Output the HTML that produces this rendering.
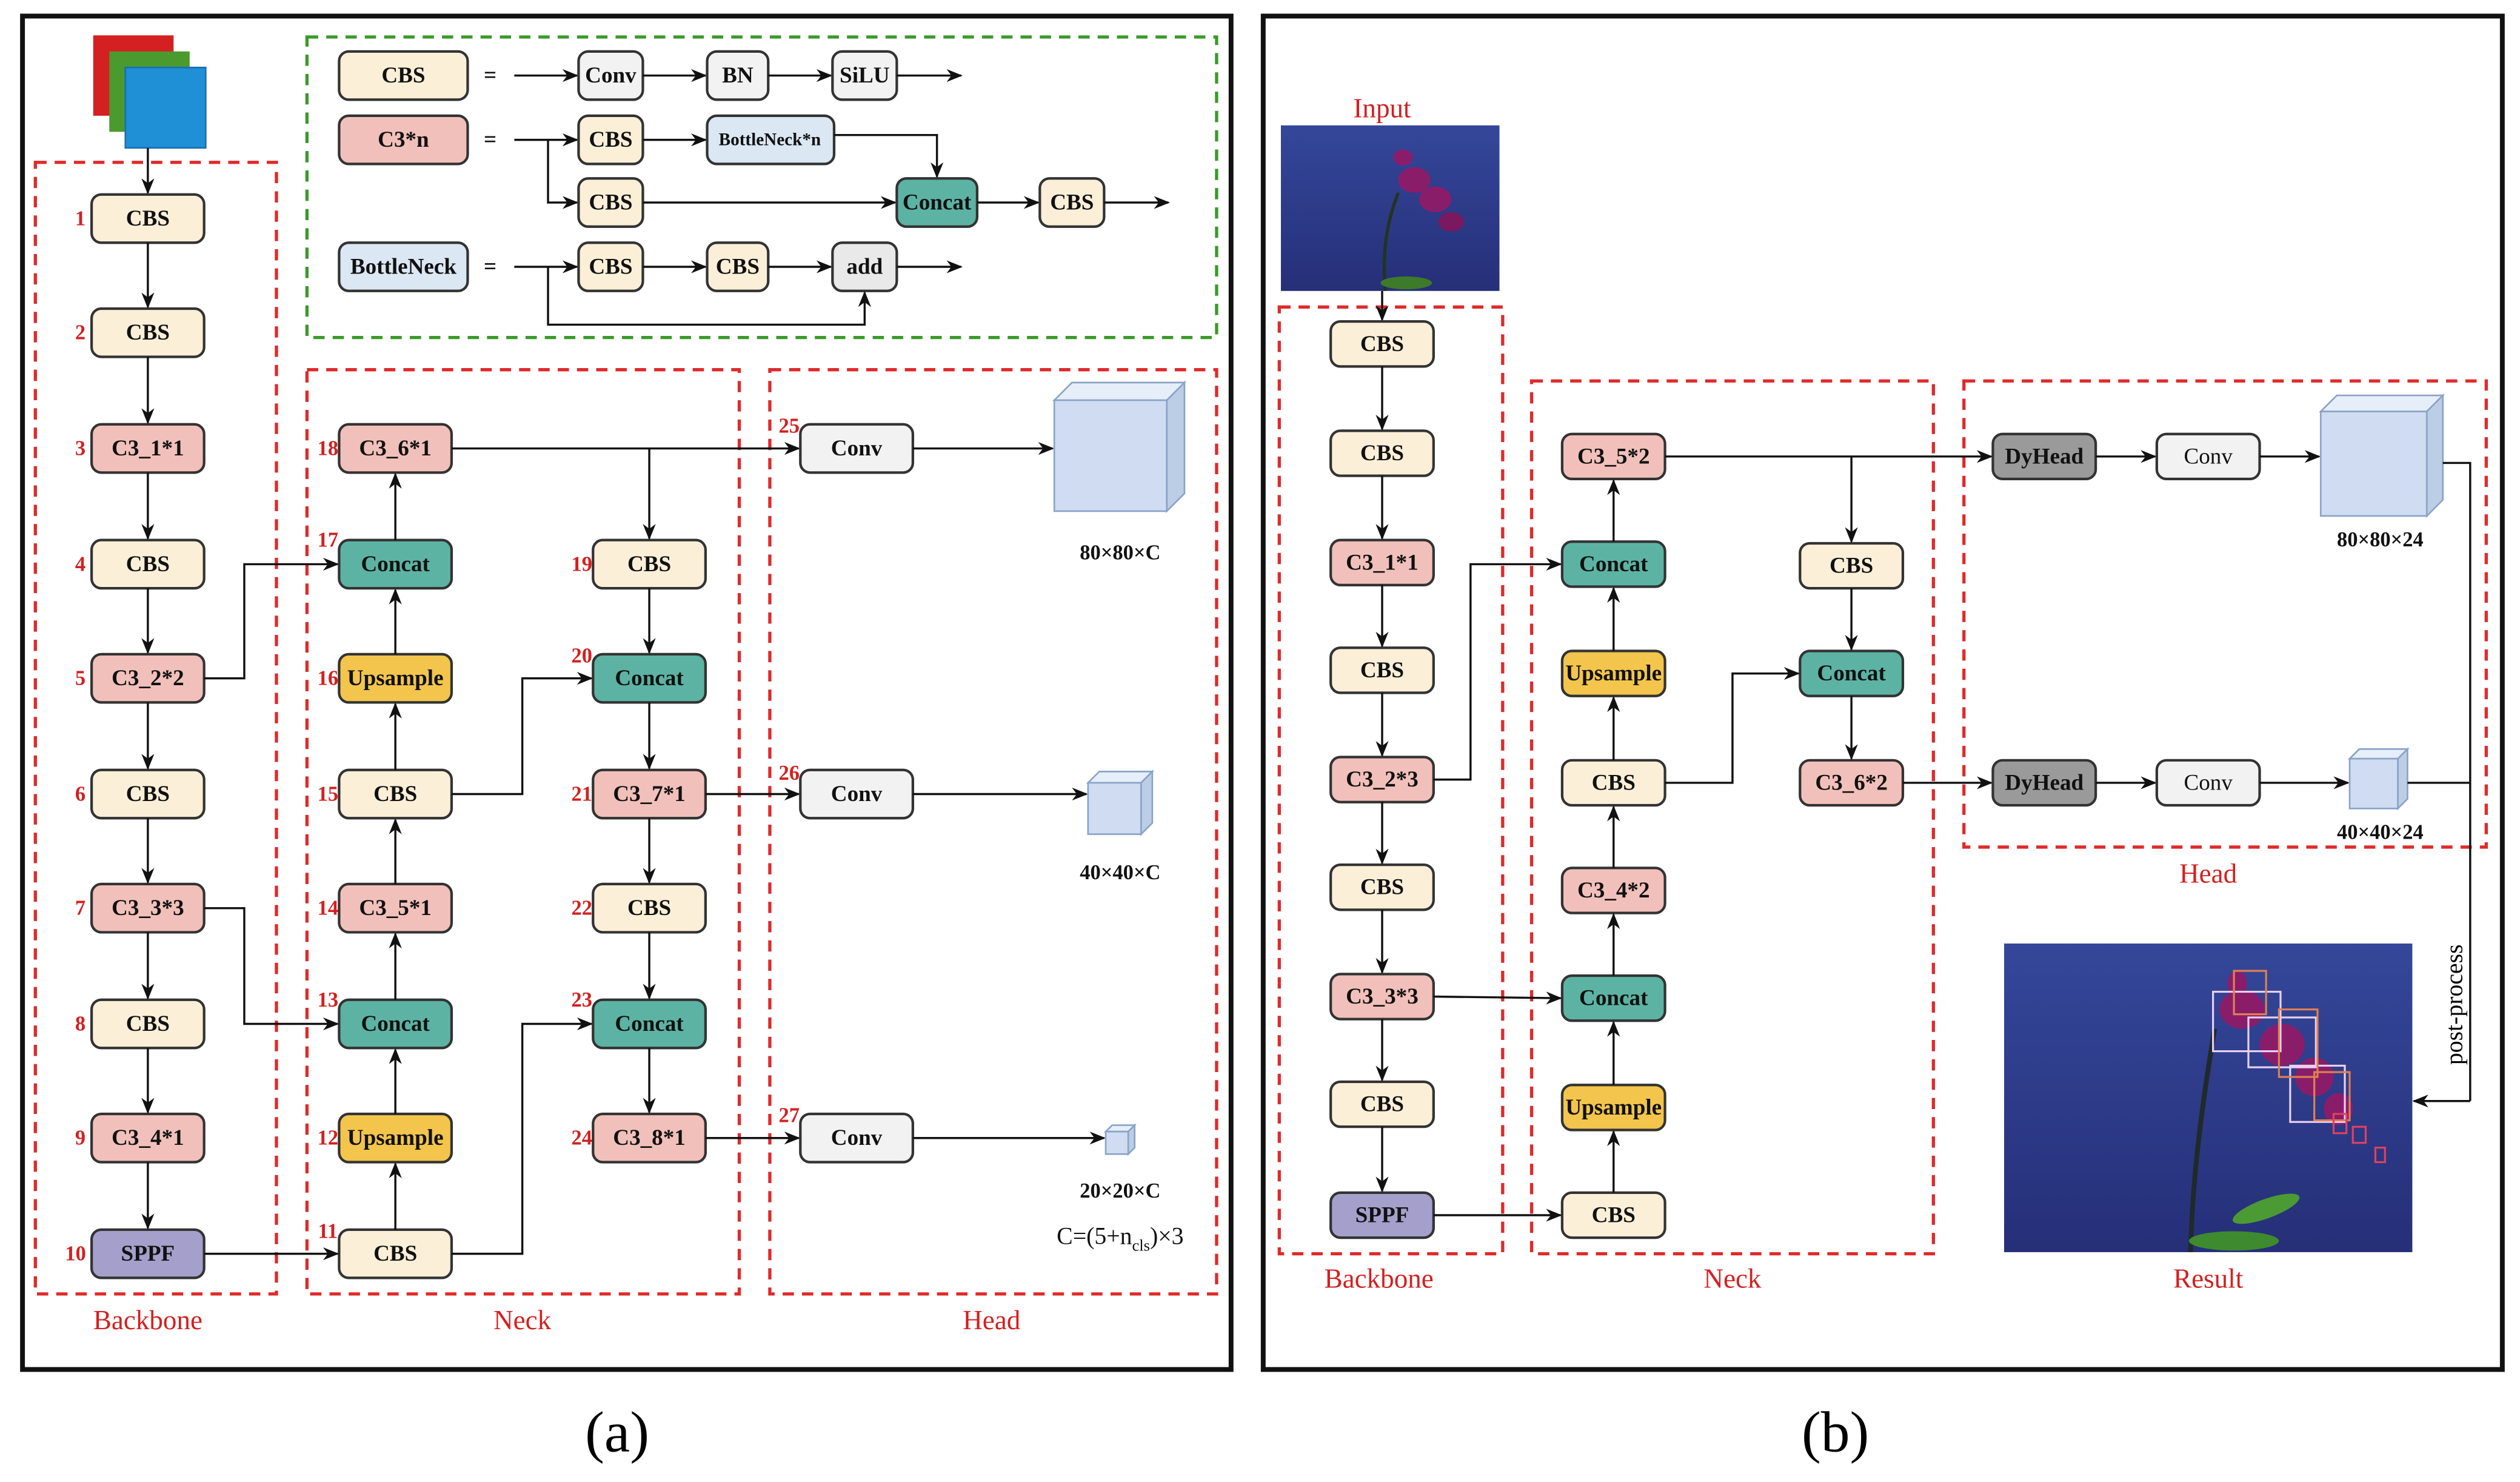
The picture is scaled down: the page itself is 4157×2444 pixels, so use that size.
<!DOCTYPE html>
<html><head><meta charset="utf-8"><style>
html,body{margin:0;padding:0;background:#fff;}
svg{display:block;}
text{font-family:"Liberation Serif",serif;}
.n{font-weight:bold;font-size:14px;text-anchor:middle;dominant-baseline:central;fill:#111;}
.s{font-weight:bold;font-size:12px;}
.num{font-weight:bold;font-size:13px;fill:#d42020;text-anchor:middle;dominant-baseline:central;}
.lab{font-size:17px;fill:#d42020;text-anchor:middle;}
.dim{font-size:13px;font-weight:bold;text-anchor:middle;fill:#111;}
.l{fill:none;stroke:#111;stroke-width:1.3;}
.a{fill:none;stroke:#111;stroke-width:1.3;marker-end:url(#ar);}
.rd{fill:none;stroke:#e02a2a;stroke-width:2;stroke-dasharray:7,5;}
.gd{fill:none;stroke:#3a9a2a;stroke-width:2;stroke-dasharray:7,5;}
.b{stroke:#333;stroke-width:1.6;}
.cbs{fill:#fcefd8}.c3{fill:#f2c0ba}.cat{fill:#5cb3a3}.up{fill:#f3c54c}.sp{fill:#a59fcb}.cv{fill:#f2f2f2}.bn{fill:#dbe7f3}.dy{fill:#9a9a9a}
</style></head><body>
<svg width="4157" height="2444" viewBox="0 0 1568 922" preserveAspectRatio="none" xmlns="http://www.w3.org/2000/svg">
<defs>
<marker id="ar" markerWidth="10" markerHeight="8" refX="9" refY="4" orient="auto" markerUnits="userSpaceOnUse"><path d="M0,0 L10,4 L0,8 L3,4 z" fill="#111"/></marker>
<linearGradient id="bg" x1="0" y1="0" x2="0" y2="1"><stop offset="0" stop-color="#34479a"/><stop offset="1" stop-color="#262f78"/></linearGradient>
</defs>
<rect x="0" y="0" width="1568" height="922" fill="#fff"/>
<rect x="14" y="10" width="752" height="842" fill="none" stroke="#111" stroke-width="3"/>
<rect x="786" y="10" width="771" height="842" fill="none" stroke="#111" stroke-width="3"/>

<rect x="58" y="22" width="50" height="50" fill="#d42020"/>
<rect x="68" y="32" width="50" height="50" fill="#4a9a2e"/>
<rect x="78" y="42" width="50" height="50" fill="#1f8fd6" stroke="#1a6fb0"/>
<line class="a" x1="92" y1="92" x2="92" y2="120"/>

<rect class="rd" x="22" y="101" width="150" height="704"/>
<rect class="rd" x="191" y="230" width="269" height="575"/>
<rect class="rd" x="479" y="230" width="278" height="575"/>
<rect class="gd" x="191" y="23" width="566" height="187"/>

<g>
<rect class="b cbs" x="57" y="121" width="70" height="30" rx="6"/><text class="n" x="92" y="136">CBS</text>
<rect class="b cbs" x="57" y="192" width="70" height="30" rx="6"/><text class="n" x="92" y="207">CBS</text>
<rect class="b c3" x="57" y="264" width="70" height="30" rx="6"/><text class="n" x="92" y="279">C3_1*1</text>
<rect class="b cbs" x="57" y="336" width="70" height="30" rx="6"/><text class="n" x="92" y="351">CBS</text>
<rect class="b c3" x="57" y="407" width="70" height="30" rx="6"/><text class="n" x="92" y="422">C3_2*2</text>
<rect class="b cbs" x="57" y="479" width="70" height="30" rx="6"/><text class="n" x="92" y="494">CBS</text>
<rect class="b c3" x="57" y="550" width="70" height="30" rx="6"/><text class="n" x="92" y="565">C3_3*3</text>
<rect class="b cbs" x="57" y="622" width="70" height="30" rx="6"/><text class="n" x="92" y="637">CBS</text>
<rect class="b c3" x="57" y="693" width="70" height="30" rx="6"/><text class="n" x="92" y="708">C3_4*1</text>
<rect class="b sp" x="57" y="765" width="70" height="30" rx="6"/><text class="n" x="92" y="780">SPPF</text>
</g>
<g>
<text class="num" x="50" y="136">1</text><text class="num" x="50" y="207">2</text><text class="num" x="50" y="279">3</text>
<text class="num" x="50" y="351">4</text><text class="num" x="50" y="422">5</text><text class="num" x="50" y="494">6</text>
<text class="num" x="50" y="565">7</text><text class="num" x="50" y="637">8</text><text class="num" x="50" y="708">9</text>
<text class="num" x="47" y="780">10</text>
</g>
<line class="a" x1="92" y1="151" x2="92" y2="191"/>
<line class="a" x1="92" y1="222" x2="92" y2="263"/>
<line class="a" x1="92" y1="294" x2="92" y2="335"/>
<line class="a" x1="92" y1="366" x2="92" y2="406"/>
<line class="a" x1="92" y1="437" x2="92" y2="478"/>
<line class="a" x1="92" y1="509" x2="92" y2="549"/>
<line class="a" x1="92" y1="580" x2="92" y2="621"/>
<line class="a" x1="92" y1="652" x2="92" y2="692"/>
<line class="a" x1="92" y1="723" x2="92" y2="764"/>

<g>
<rect class="b c3" x="211" y="264" width="70" height="30" rx="6"/><text class="n" x="246" y="279">C3_6*1</text>
<rect class="b cat" x="211" y="336" width="70" height="30" rx="6"/><text class="n" x="246" y="351">Concat</text>
<rect class="b up" x="211" y="407" width="70" height="30" rx="6"/><text class="n" x="246" y="422">Upsample</text>
<rect class="b cbs" x="211" y="479" width="70" height="30" rx="6"/><text class="n" x="246" y="494">CBS</text>
<rect class="b c3" x="211" y="550" width="70" height="30" rx="6"/><text class="n" x="246" y="565">C3_5*1</text>
<rect class="b cat" x="211" y="622" width="70" height="30" rx="6"/><text class="n" x="246" y="637">Concat</text>
<rect class="b up" x="211" y="693" width="70" height="30" rx="6"/><text class="n" x="246" y="708">Upsample</text>
<rect class="b cbs" x="211" y="765" width="70" height="30" rx="6"/><text class="n" x="246" y="780">CBS</text>
<rect class="b cbs" x="369" y="336" width="70" height="30" rx="6"/><text class="n" x="404" y="351">CBS</text>
<rect class="b cat" x="369" y="407" width="70" height="30" rx="6"/><text class="n" x="404" y="422">Concat</text>
<rect class="b c3" x="369" y="479" width="70" height="30" rx="6"/><text class="n" x="404" y="494">C3_7*1</text>
<rect class="b cbs" x="369" y="550" width="70" height="30" rx="6"/><text class="n" x="404" y="565">CBS</text>
<rect class="b cat" x="369" y="622" width="70" height="30" rx="6"/><text class="n" x="404" y="637">Concat</text>
<rect class="b c3" x="369" y="693" width="70" height="30" rx="6"/><text class="n" x="404" y="708">C3_8*1</text>
</g>
<g>
<text class="num" x="204" y="279">18</text><text class="num" x="204" y="336">17</text><text class="num" x="204" y="422">16</text>
<text class="num" x="204" y="494">15</text><text class="num" x="204" y="565">14</text><text class="num" x="204" y="622">13</text>
<text class="num" x="204" y="708">12</text><text class="num" x="204" y="766">11</text>
<text class="num" x="362" y="351">19</text><text class="num" x="362" y="408">20</text><text class="num" x="362" y="494">21</text>
<text class="num" x="362" y="565">22</text><text class="num" x="362" y="622">23</text><text class="num" x="362" y="708">24</text>
<text class="num" x="491" y="265">25</text><text class="num" x="491" y="481">26</text><text class="num" x="491" y="694">27</text>
</g>
<line class="a" x1="246" y1="765" x2="246" y2="724"/>
<line class="a" x1="246" y1="693" x2="246" y2="653"/>
<line class="a" x1="246" y1="622" x2="246" y2="581"/>
<line class="a" x1="246" y1="550" x2="246" y2="510"/>
<line class="a" x1="246" y1="479" x2="246" y2="438"/>
<line class="a" x1="246" y1="407" x2="246" y2="367"/>
<line class="a" x1="246" y1="336" x2="246" y2="295"/>
<line class="a" x1="404" y1="279" x2="404" y2="335"/>
<line class="a" x1="404" y1="366" x2="404" y2="406"/>
<line class="a" x1="404" y1="437" x2="404" y2="478"/>
<line class="a" x1="404" y1="509" x2="404" y2="549"/>
<line class="a" x1="404" y1="580" x2="404" y2="621"/>
<line class="a" x1="404" y1="652" x2="404" y2="692"/>
<polyline class="a" points="127,422 152,422 152,351 210,351"/>
<polyline class="a" points="127,565 152,565 152,637 210,637"/>
<line class="a" x1="127" y1="780" x2="210" y2="780"/>
<polyline class="a" points="281,780 325,780 325,637 368,637"/>
<polyline class="a" points="281,494 325,494 325,422 368,422"/>
<line class="a" x1="281" y1="279" x2="497" y2="279"/>
<line class="a" x1="439" y1="494" x2="497" y2="494"/>
<line class="a" x1="439" y1="708" x2="497" y2="708"/>
<rect class="b cv" x="498" y="264" width="70" height="30" rx="6"/><text class="n" x="533" y="279">Conv</text>
<rect class="b cv" x="498" y="479" width="70" height="30" rx="6"/><text class="n" x="533" y="494">Conv</text>
<rect class="b cv" x="498" y="693" width="70" height="30" rx="6"/><text class="n" x="533" y="708">Conv</text>
<line class="a" x1="568" y1="279" x2="655" y2="279"/>
<line class="a" x1="568" y1="494" x2="676" y2="494"/>
<line class="a" x1="568" y1="708" x2="687" y2="708"/>
<g stroke="#8aa3c8" stroke-width="1">
<polygon points="656,249 667,238 737,238 726,249" fill="#e6eef9"/>
<polygon points="726,249 737,238 737,307 726,318" fill="#bccde6"/>
<rect x="656" y="249" width="70" height="69" fill="#cfdcf1"/>
<polygon points="677,487 684,480 717,480 710,487" fill="#e6eef9"/>
<polygon points="710,487 717,480 717,512 710,519" fill="#bccde6"/>
<rect x="677" y="487" width="33" height="32" fill="#cfdcf1"/>
<polygon points="688,704 692,700 706,700 702,704" fill="#e6eef9"/>
<polygon points="702,704 706,700 706,714 702,718" fill="#bccde6"/>
<rect x="688" y="704" width="14" height="14" fill="#cfdcf1"/>
</g>
<text class="dim" x="697" y="348">80×80×C</text>
<text class="dim" x="697" y="547">40×40×C</text>
<text class="dim" x="697" y="745">20×20×C</text>
<text class="dim" x="697" y="774" style="font-weight:normal;font-size:15px">C=(5+n<tspan font-size="10" dy="4">cls</tspan><tspan dy="-4">)×3</tspan></text>
<text class="lab" x="92" y="827">Backbone</text>
<text class="lab" x="325" y="827">Neck</text>
<text class="lab" x="617" y="827">Head</text>

<rect class="b cbs" x="211" y="32" width="80" height="30" rx="6"/><text class="n" x="251" y="47">CBS</text>
<rect class="b c3" x="211" y="72" width="80" height="30" rx="6"/><text class="n" x="251" y="87">C3*n</text>
<rect class="b bn" x="211" y="151" width="80" height="30" rx="6"/><text class="n" x="251" y="166">BottleNeck</text>
<text class="n" x="305" y="47">=</text><text class="n" x="305" y="87">=</text><text class="n" x="305" y="166">=</text>
<line class="a" x1="320" y1="47" x2="359" y2="47"/>
<rect class="b cv" x="360" y="32" width="40" height="30" rx="6"/><text class="n" x="380" y="47">Conv</text>
<line class="a" x1="400" y1="47" x2="439" y2="47"/>
<rect class="b cv" x="440" y="32" width="38" height="30" rx="6"/><text class="n" x="459" y="47">BN</text>
<line class="a" x1="478" y1="47" x2="517" y2="47"/>
<rect class="b cv" x="518" y="32" width="40" height="30" rx="6"/><text class="n" x="538" y="47">SiLU</text>
<line class="a" x1="558" y1="47" x2="598" y2="47"/>

<line class="a" x1="320" y1="87" x2="359" y2="87"/>
<polyline class="a" points="341,87 341,126 359,126"/>
<rect class="b cbs" x="360" y="72" width="40" height="30" rx="6"/><text class="n" x="380" y="87">CBS</text>
<line class="a" x1="400" y1="87" x2="439" y2="87"/>
<rect class="b bn" x="440" y="72" width="79" height="30" rx="6"/><text class="n s" x="479" y="87" style="font-size:11px">BottleNeck*n</text>
<polyline class="a" points="519,84 583,84 583,110"/>
<rect class="b cbs" x="360" y="111" width="40" height="30" rx="6"/><text class="n" x="380" y="126">CBS</text>
<line class="a" x1="400" y1="126" x2="557" y2="126"/>
<rect class="b cat" x="558" y="111" width="50" height="30" rx="6"/><text class="n" x="583" y="126">Concat</text>
<line class="a" x1="608" y1="126" x2="646" y2="126"/>
<rect class="b cbs" x="647" y="111" width="40" height="30" rx="6"/><text class="n" x="667" y="126">CBS</text>
<line class="a" x1="687" y1="126" x2="727" y2="126"/>

<line class="a" x1="320" y1="166" x2="359" y2="166"/>
<rect class="b cbs" x="360" y="151" width="40" height="30" rx="6"/><text class="n" x="380" y="166">CBS</text>
<line class="a" x1="400" y1="166" x2="439" y2="166"/>
<rect class="b cbs" x="440" y="151" width="38" height="30" rx="6"/><text class="n" x="459" y="166">CBS</text>
<line class="a" x1="478" y1="166" x2="517" y2="166"/>
<rect class="b cv" x="518" y="151" width="40" height="30" rx="6" style="fill:#e9e9e9"/><text class="n" x="538" y="166">add</text>
<line class="a" x1="558" y1="166" x2="598" y2="166"/>
<polyline class="a" points="341,166 341,202 538,202 538,182"/>

<text x="384" y="903" font-size="36" text-anchor="middle" style="font-family:'Liberation Serif',serif">(a)</text>
<text x="1142" y="903" font-size="36" text-anchor="middle" style="font-family:'Liberation Serif',serif">(b)</text>

<text class="lab" x="860" y="73">Input</text>
<rect x="797" y="78" width="136" height="103" fill="url(#bg)"/>
<path d="M862,181 C860,160 862,140 870,120" stroke="#223322" stroke-width="2" fill="none"/>
<ellipse cx="880" cy="112" rx="10" ry="8" fill="#8a1d6a"/>
<ellipse cx="893" cy="124" rx="10" ry="8" fill="#8a1d6a"/>
<ellipse cx="903" cy="138" rx="8" ry="6" fill="#7a1860"/>
<ellipse cx="873" cy="98" rx="6" ry="5" fill="#8a1d6a"/>
<ellipse cx="875" cy="176" rx="16" ry="4" fill="#3d7a2a"/>

<rect class="rd" x="796" y="191" width="139" height="589"/>
<rect class="rd" x="953" y="237" width="250" height="543"/>
<rect class="rd" x="1222" y="237" width="325" height="290"/>
<line class="a" x1="860" y1="181" x2="860" y2="199"/>
<g>
<rect class="b cbs" x="828" y="200" width="64" height="28" rx="6"/><text class="n" x="860" y="214">CBS</text>
<rect class="b cbs" x="828" y="268" width="64" height="28" rx="6"/><text class="n" x="860" y="282">CBS</text>
<rect class="b c3" x="828" y="336" width="64" height="28" rx="6"/><text class="n" x="860" y="350">C3_1*1</text>
<rect class="b cbs" x="828" y="403" width="64" height="28" rx="6"/><text class="n" x="860" y="417">CBS</text>
<rect class="b c3" x="828" y="471" width="64" height="28" rx="6"/><text class="n" x="860" y="485">C3_2*3</text>
<rect class="b cbs" x="828" y="538" width="64" height="28" rx="6"/><text class="n" x="860" y="552">CBS</text>
<rect class="b c3" x="828" y="606" width="64" height="28" rx="6"/><text class="n" x="860" y="620">C3_3*3</text>
<rect class="b cbs" x="828" y="673" width="64" height="28" rx="6"/><text class="n" x="860" y="687">CBS</text>
<rect class="b sp" x="828" y="742" width="64" height="28" rx="6"/><text class="n" x="860" y="756">SPPF</text>
</g>
<line class="a" x1="860" y1="228" x2="860" y2="267"/>
<line class="a" x1="860" y1="296" x2="860" y2="335"/>
<line class="a" x1="860" y1="364" x2="860" y2="402"/>
<line class="a" x1="860" y1="431" x2="860" y2="470"/>
<line class="a" x1="860" y1="499" x2="860" y2="537"/>
<line class="a" x1="860" y1="566" x2="860" y2="605"/>
<line class="a" x1="860" y1="634" x2="860" y2="672"/>
<line class="a" x1="860" y1="701" x2="860" y2="741"/>

<g>
<rect class="b c3" x="972" y="270" width="64" height="28" rx="6"/><text class="n" x="1004" y="284">C3_5*2</text>
<rect class="b cat" x="972" y="337" width="64" height="28" rx="6"/><text class="n" x="1004" y="351">Concat</text>
<rect class="b up" x="972" y="405" width="64" height="28" rx="6"/><text class="n" x="1004" y="419">Upsample</text>
<rect class="b cbs" x="972" y="473" width="64" height="28" rx="6"/><text class="n" x="1004" y="487">CBS</text>
<rect class="b c3" x="972" y="540" width="64" height="28" rx="6"/><text class="n" x="1004" y="554">C3_4*2</text>
<rect class="b cat" x="972" y="607" width="64" height="28" rx="6"/><text class="n" x="1004" y="621">Concat</text>
<rect class="b up" x="972" y="675" width="64" height="28" rx="6"/><text class="n" x="1004" y="689">Upsample</text>
<rect class="b cbs" x="972" y="742" width="64" height="28" rx="6"/><text class="n" x="1004" y="756">CBS</text>
<rect class="b cbs" x="1120" y="338" width="64" height="28" rx="6"/><text class="n" x="1152" y="352">CBS</text>
<rect class="b cat" x="1120" y="405" width="64" height="28" rx="6"/><text class="n" x="1152" y="419">Concat</text>
<rect class="b c3" x="1120" y="473" width="64" height="28" rx="6"/><text class="n" x="1152" y="487">C3_6*2</text>
</g>
<line class="a" x1="1004" y1="742" x2="1004" y2="704"/>
<line class="a" x1="1004" y1="675" x2="1004" y2="636"/>
<line class="a" x1="1004" y1="607" x2="1004" y2="569"/>
<line class="a" x1="1004" y1="540" x2="1004" y2="502"/>
<line class="a" x1="1004" y1="473" x2="1004" y2="434"/>
<line class="a" x1="1004" y1="405" x2="1004" y2="366"/>
<line class="a" x1="1004" y1="337" x2="1004" y2="299"/>
<line class="a" x1="1152" y1="284" x2="1152" y2="337"/>
<line class="a" x1="1152" y1="366" x2="1152" y2="404"/>
<line class="a" x1="1152" y1="433" x2="1152" y2="472"/>
<polyline class="a" points="892,485 915,485 915,351 971,351"/>
<line class="a" x1="892" y1="620" x2="971" y2="621"/>
<line class="a" x1="892" y1="756" x2="971" y2="756"/>
<polyline class="a" points="1036,487 1078,487 1078,419 1119,419"/>
<line class="a" x1="1036" y1="284" x2="1239" y2="284"/>
<line class="a" x1="1184" y1="487" x2="1239" y2="487"/>

<rect class="b dy" x="1240" y="270" width="64" height="28" rx="6"/><text class="n" x="1272" y="284">DyHead</text>
<rect class="b dy" x="1240" y="473" width="64" height="28" rx="6"/><text class="n" x="1272" y="487">DyHead</text>
<line class="a" x1="1304" y1="284" x2="1341" y2="284"/>
<line class="a" x1="1304" y1="487" x2="1341" y2="487"/>
<rect class="b cv" x="1342" y="270" width="64" height="28" rx="6"/><text class="n" x="1374" y="284" style="font-weight:normal">Conv</text>
<rect class="b cv" x="1342" y="473" width="64" height="28" rx="6"/><text class="n" x="1374" y="487" style="font-weight:normal">Conv</text>
<line class="a" x1="1406" y1="284" x2="1443" y2="284"/>
<line class="a" x1="1406" y1="487" x2="1461" y2="487"/>
<g stroke="#8aa3c8" stroke-width="1">
<polygon points="1444,256 1454,246 1520,246 1510,256" fill="#e6eef9"/>
<polygon points="1510,256 1520,246 1520,311 1510,321" fill="#bccde6"/>
<rect x="1444" y="256" width="66" height="65" fill="#cfdcf1"/>
<polygon points="1462,472 1468,466 1498,466 1492,472" fill="#e6eef9"/>
<polygon points="1492,472 1498,466 1498,497 1492,503" fill="#bccde6"/>
<rect x="1462" y="472" width="30" height="31" fill="#cfdcf1"/>
</g>
<polyline class="l" points="1520,288 1537,288 1537,685"/>
<line class="l" x1="1498" y1="487" x2="1537" y2="487"/>
<line class="a" x1="1537" y1="685" x2="1502" y2="685"/>
<text x="1532" y="625" font-size="15" text-anchor="middle" transform="rotate(-90 1532 625)" style="font-family:'Liberation Serif',serif">post-process</text>
<text class="dim" x="1481" y="340">80×80×24</text>
<text class="dim" x="1481" y="522">40×40×24</text>
<text class="lab" x="1374" y="549">Head</text>

<rect x="1247" y="587" width="254" height="192" fill="url(#bg)"/>
<path d="M1363,779 C1364,740 1368,700 1378,640" stroke="#1f2a2a" stroke-width="3" fill="none"/>
<ellipse cx="1390" cy="772" rx="28" ry="6" fill="#3e8a2e"/>
<ellipse cx="1410" cy="752" rx="22" ry="6" fill="#4b9a33" transform="rotate(-20 1410 752)"/>
<g fill="#8a1d6a">
<ellipse cx="1395" cy="628" rx="14" ry="12"/><ellipse cx="1420" cy="650" rx="14" ry="13"/>
<ellipse cx="1440" cy="670" rx="12" ry="12"/><ellipse cx="1392" cy="612" rx="6" ry="8"/>
<ellipse cx="1455" cy="690" rx="9" ry="10"/>
</g>
<g fill="none" stroke-width="1.2">
<rect x="1377" y="617" width="42" height="37" stroke="#e8d0f0"/>
<rect x="1399" y="633" width="42" height="31" stroke="#e8d0f0"/>
<rect x="1425" y="663" width="34" height="35" stroke="#e8d0f0"/>
<rect x="1390" y="604" width="20" height="27" stroke="#e08050"/>
<rect x="1418" y="628" width="24" height="42" stroke="#e08050"/>
<rect x="1440" y="667" width="22" height="30" stroke="#e08050"/>
<rect x="1452" y="693" width="8" height="12" stroke="#e04060"/>
<rect x="1464" y="701" width="8" height="10" stroke="#e04060"/>
<rect x="1478" y="714" width="6" height="9" stroke="#e04060"/>
</g>
<text class="lab" x="858" y="801">Backbone</text>
<text class="lab" x="1078" y="801">Neck</text>
<text class="lab" x="1374" y="801">Result</text>
</svg>
</body></html>
